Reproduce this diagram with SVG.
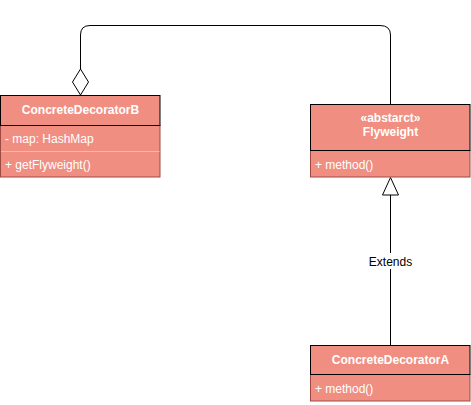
<svg xmlns="http://www.w3.org/2000/svg" width="471" height="405" viewBox="0 0 471 405">
<style>
.hdr{fill:#F08E81;stroke:#000;stroke-width:1}
.body{fill:#F08E81;stroke:#9C4A42;stroke-width:1}
.sep{stroke:#F6B9B1;stroke-width:1}
.t{font-family:"Liberation Sans",Arial,sans-serif;font-size:12px;fill:#fff}
.b{font-weight:bold;text-anchor:middle}
.edge{fill:none;stroke:#000;stroke-width:1}
.lbl{font-family:"Liberation Sans",Arial,sans-serif;font-size:12px;fill:#000;text-anchor:middle}
</style>
<rect width="471" height="405" fill="#fff"/>
<g id="connectors">
<path class="edge" d="M80.5 69 V35 Q80.5 25.5 90 25.5 H380 Q390.5 25.5 390.5 35 V104"/>
<polygon points="80.5,69 88.5,82 80.5,95 72.5,82" fill="#fff" stroke="#000" stroke-width="1"/>
<path class="edge" d="M390.5 195 V345"/>
<polygon points="390.5,177.5 398.5,195 382.5,195" fill="#fff" stroke="#000" stroke-width="1"/>
<rect x="367" y="253" width="47" height="16" fill="#fff"/>
<text class="lbl" x="390.5" y="266">Extends</text>
</g>
<g id="ConcreteDecoratorB">
<rect class="body" x="0.5" y="125.5" width="159.5" height="51.5"/>
<line class="sep" x1="1" y1="151.5" x2="159.5" y2="151.5"/>
<rect class="hdr" x="0.5" y="95.5" width="159.5" height="30"/>
<text class="t b" x="80.5" y="114">ConcreteDecoratorB</text>
<text class="t" x="5" y="143">- map: HashMap</text>
<text class="t" x="5" y="169">+ getFlyweight()</text>
</g>
<g id="Flyweight">
<rect class="body" x="310.5" y="150.5" width="159.5" height="26.5"/>
<rect class="hdr" x="310.5" y="104.5" width="159.5" height="46"/>
<text class="t b" x="390.5" y="122">«abstarct»</text>
<text class="t b" x="390.5" y="136">Flyweight</text>
<text class="t" x="315" y="169">+ method()</text>
</g>
<g id="ConcreteDecoratorA">
<rect class="body" x="310.5" y="374.5" width="159.5" height="26.5"/>
<rect class="hdr" x="310.5" y="345.5" width="159.5" height="29"/>
<text class="t b" x="390.5" y="364">ConcreteDecoratorA</text>
<text class="t" x="315" y="393">+ method()</text>
</g>
</svg>
